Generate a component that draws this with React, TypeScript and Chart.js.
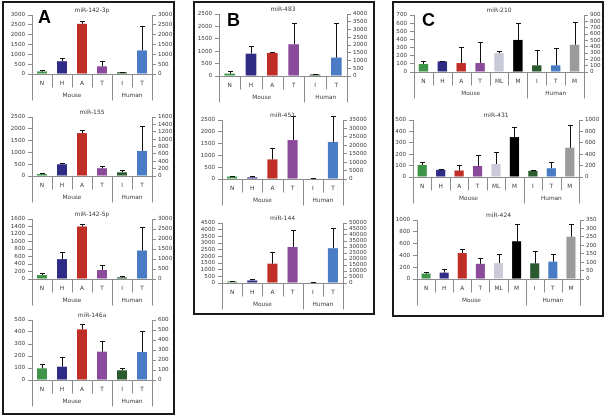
import React, { useEffect, useRef } from 'react';
import { Chart, registerables } from 'chart.js';
Chart.register(...registerables);

// ---------- categories / groups ----------
const catsAB = ['N', 'H', 'A', 'T', 'I', 'T'];
const catsC = ['N', 'H', 'A', 'T', 'ML', 'M', 'I', 'T', 'M'];
const groupNames = ['Mouse', 'Human'];
const groupSizesAB = [4, 2];
const groupSizesC = [6, 3];
const colorsAB = ['#3e9448', '#2f2c86', '#bf2f27', '#8a4b9a', '#2b5a2e', '#4a7cc6'];
const colorsC = ['#3e9448', '#2f2c86', '#bf2f27', '#8a4b9a', '#cacad8', '#000000', '#2b5a2e', '#4a7cc6', '#9b9b9b'];

// ---------- Panel A ----------
const m1423pMouse = [130, 650, 2550, 390];
const m1423pMouseErr = [90, 170, 130, 250];
const m1423pHuman = [90, 1200];
const m1423pHumanErr = [30, 1250];
const m1423pLeftAxis = [3000, 500];
const m1423pRightAxis = [3000, 500];

const m155Mouse = [85, 497, 1818, 330];
const m155MouseErr = [40, 40, 115, 95];
const m155Human = [100, 680];
const m155HumanErr = [64, 680];
const m155LeftAxis = [2500, 500];
const m155RightAxis = [1600, 200];

const m1425pMouse = [105, 530, 1400, 240];
const m1425pMouseErr = [45, 180, 65, 135];
const m1425pHuman = [85, 1425];
const m1425pHumanErr = [85, 1200];
const m1425pLeftAxis = [1600, 200];
const m1425pRightAxis = [3000, 500];

const m146aMouse = [97, 111, 422, 236];
const m146aMouseErr = [33, 83, 42, 92];
const m146aHuman = [97, 280];
const m146aHumanErr = [26, 210];
const m146aLeftAxis = [500, 100];
const m146aRightAxis = [600, 100];

// ---------- Panel B ----------
const m483Mouse = [95, 900, 930, 1280];
const m483MouseErr = [105, 300, 40, 840];
const m483Human = [100, 1190];
const m483HumanErr = [50, 2250];
const m483LeftAxis = [2500, 500];
const m483RightAxis = [4000, 500];

const m451Mouse = [100, 70, 830, 1650];
const m451MouseErr = [30, 60, 470, 1000];
const m451Human = [350, 22000];
const m451HumanErr = [200, 15500];
const m451LeftAxis = [2500, 500];
const m451RightAxis = [35000, 5000];

const m144Mouse = [110, 190, 1450, 2700];
const m144MouseErr = [40, 90, 900, 1300];
const m144Human = [300, 29000];
const m144HumanErr = [200, 16500];
const m144LeftAxis = [4500, 500];
const m144RightAxis = [50000, 5000];

// ---------- Panel C ----------
const m210Mouse = [98, 130, 110, 110, 232, 394];
const m210MouseErr = [32, 8, 203, 264, 32, 204];
const m210Human = [105, 105, 429];
const m210HumanErr = [246, 272, 356];
const m210LeftAxis = [700, 100];
const m210RightAxis = [900, 100];

const m431Mouse = [106, 63, 57, 97, 114, 350];
const m431MouseErr = [23, 6, 49, 94, 106, 90];
const m431Human = [109, 154, 514];
const m431HumanErr = [17, 115, 406];
const m431LeftAxis = [500, 100];
const m431RightAxis = [1000, 200];

const m424Mouse = [92, 108, 440, 257, 269, 640];
const m424MouseErr = [27, 65, 63, 103, 160, 286];
const m424Human = [93, 103, 251];
const m424HumanErr = [75, 43, 73];
const m424LeftAxis = [1000, 200];
const m424RightAxis = [350, 50];

// ---------- layout ----------
const PT = 12; // canvas space above plot
const YW = 30; // left axis width
const Y1W = 32; // right axis width
const XH = 30; // space below plot
const FONT = 'DejaVu Sans';
const TXT = '#3a3a3a';
const AX = '#8c8c8c';

type Spec = {
  title: string; cats: string[]; groups: number[]; colors: string[];
  mouse: number[]; mouseErr: number[]; human: number[]; humanErr: number[];
  left: number[]; right: number[];
  L: number; R: number; T: number; B: number;
};

const specs: Spec[] = [
  { title: 'miR-142-3p', cats: catsAB, groups: groupSizesAB, colors: colorsAB, mouse: m1423pMouse, mouseErr: m1423pMouseErr, human: m1423pHuman, humanErr: m1423pHumanErr, left: m1423pLeftAxis, right: m1423pRightAxis, L: 32, R: 152, T: 15, B: 74 },
  { title: 'miR-155', cats: catsAB, groups: groupSizesAB, colors: colorsAB, mouse: m155Mouse, mouseErr: m155MouseErr, human: m155Human, humanErr: m155HumanErr, left: m155LeftAxis, right: m155RightAxis, L: 32, R: 152, T: 117, B: 176 },
  { title: 'miR-142-5p', cats: catsAB, groups: groupSizesAB, colors: colorsAB, mouse: m1425pMouse, mouseErr: m1425pMouseErr, human: m1425pHuman, humanErr: m1425pHumanErr, left: m1425pLeftAxis, right: m1425pRightAxis, L: 32, R: 152, T: 219, B: 279 },
  { title: 'miR-146a', cats: catsAB, groups: groupSizesAB, colors: colorsAB, mouse: m146aMouse, mouseErr: m146aMouseErr, human: m146aHuman, humanErr: m146aHumanErr, left: m146aLeftAxis, right: m146aRightAxis, L: 32, R: 152, T: 320, B: 380 },
  { title: 'miR-483', cats: catsAB, groups: groupSizesAB, colors: colorsAB, mouse: m483Mouse, mouseErr: m483MouseErr, human: m483Human, humanErr: m483HumanErr, left: m483LeftAxis, right: m483RightAxis, L: 219, R: 347, T: 14, B: 76 },
  { title: 'miR-451', cats: catsAB, groups: groupSizesAB, colors: colorsAB, mouse: m451Mouse, mouseErr: m451MouseErr, human: m451Human, humanErr: m451HumanErr, left: m451LeftAxis, right: m451RightAxis, L: 222, R: 343, T: 120, B: 179 },
  { title: 'miR-144', cats: catsAB, groups: groupSizesAB, colors: colorsAB, mouse: m144Mouse, mouseErr: m144MouseErr, human: m144Human, humanErr: m144HumanErr, left: m144LeftAxis, right: m144RightAxis, L: 222, R: 343, T: 223, B: 283 },
  { title: 'miR-210', cats: catsC, groups: groupSizesC, colors: colorsC, mouse: m210Mouse, mouseErr: m210MouseErr, human: m210Human, humanErr: m210HumanErr, left: m210LeftAxis, right: m210RightAxis, L: 414, R: 584, T: 15, B: 72 },
  { title: 'miR-431', cats: catsC, groups: groupSizesC, colors: colorsC, mouse: m431Mouse, mouseErr: m431MouseErr, human: m431Human, humanErr: m431HumanErr, left: m431LeftAxis, right: m431RightAxis, L: 413, R: 579, T: 120, B: 177 },
  { title: 'miR-424', cats: catsC, groups: groupSizesC, colors: colorsC, mouse: m424Mouse, mouseErr: m424MouseErr, human: m424Human, humanErr: m424HumanErr, left: m424LeftAxis, right: m424RightAxis, L: 417, R: 580, T: 220, B: 279 },
];

function MiniChart({ s }: { s: Spec }) {
  const ref = useRef<HTMLCanvasElement | null>(null);
  const cl = s.L - YW;
  const ct = s.T - PT;
  const cw = s.R + Y1W - cl;
  const ch = s.B + XH - ct;

  useEffect(() => {
    const n = s.cats.length;
    const nm = s.mouse.length;
    const mouseData = s.cats.map((_, i) => (i < nm ? s.mouse[i] : null));
    const humanData = s.cats.map((_, i) => (i >= nm ? s.human[i - nm] : null));
    const errs = [
      s.cats.map((_, i) => (i < nm ? s.mouseErr[i] : 0)),
      s.cats.map((_, i) => (i >= nm ? s.humanErr[i - nm] : 0)),
    ];
    const tickFont = { family: FONT, size: 5.6 };

    const deco = {
      id: 'deco',
      afterDatasetsDraw(chart: any) {
        const ctx = chart.ctx;
        ctx.save();
        ctx.strokeStyle = '#111';
        ctx.lineWidth = 1;
        chart.data.datasets.forEach((ds: any, di: number) => {
          const meta = chart.getDatasetMeta(di);
          const ys = chart.scales[ds.yAxisID];
          meta.data.forEach((bar: any, i: number) => {
            const v = ds.data[i];
            if (v == null) return;
            const top = ys.getPixelForValue(v + errs[di][i]);
            const x = Math.round(bar.x) + 0.5;
            ctx.beginPath();
            ctx.moveTo(x, bar.y);
            ctx.lineTo(x, Math.round(top) + 0.5);
            ctx.moveTo(x - 2.5, Math.round(top) + 0.5);
            ctx.lineTo(x + 2.5, Math.round(top) + 0.5);
            ctx.stroke();
          });
        });
        ctx.restore();
      },
      afterDraw(chart: any) {
        const ctx = chart.ctx;
        const ca = chart.chartArea;
        const xs = chart.scales.x;
        ctx.save();
        // baseline
        ctx.strokeStyle = AX;
        ctx.lineWidth = 1;
        const by = Math.round(ca.bottom) + 0.5;
        ctx.beginPath();
        ctx.moveTo(ca.left, by);
        ctx.lineTo(ca.right, by);
        // separators
        const w = (ca.right - ca.left) / n;
        for (let i = 0; i <= n; i++) {
          const x = Math.round(ca.left + i * w) + 0.5;
          const long = i === 0 || i === n || i === nm;
          ctx.moveTo(x, by);
          ctx.lineTo(x, by + (long ? 26 : 13));
        }
        ctx.stroke();
        // category labels
        ctx.fillStyle = TXT;
        ctx.font = `5.8px "${FONT}"`;
        ctx.textAlign = 'center';
        ctx.textBaseline = 'middle';
        s.cats.forEach((c, i) => {
          ctx.fillText(c, xs.getPixelForValue(i), ca.bottom + 9.5);
        });
        // group labels
        let start = 0;
        s.groups.forEach((g, gi) => {
          const x0 = ca.left + start * w;
          const x1 = ca.left + (start + g) * w;
          ctx.fillText(groupNames[gi], (x0 + x1) / 2, ca.bottom + 21.5);
          start += g;
        });
        // title
        ctx.font = `6px "${FONT}"`;
        ctx.fillText(s.title, (ca.left + ca.right) / 2, ca.top - 4.5);
        ctx.restore();
      },
    };

    const chart = new Chart(ref.current as HTMLCanvasElement, {
      type: 'bar',
      data: {
        labels: s.cats,
        datasets: [
          { data: mouseData, yAxisID: 'y', backgroundColor: s.colors, borderWidth: 0 },
          { data: humanData, yAxisID: 'y1', backgroundColor: s.colors, borderWidth: 0 },
        ],
      } as any,
      options: {
        animation: false,
        responsive: false,
        devicePixelRatio: 1,
        layout: { padding: { top: PT, left: 0, right: 0, bottom: 0 } },
        plugins: { legend: { display: false }, tooltip: { enabled: false }, title: { display: false } },
        datasets: { bar: { grouped: false, barPercentage: 0.5, categoryPercentage: 1 } },
        scales: {
          x: {
            type: 'category',
            offset: true,
            grid: { display: false, drawTicks: false },
            border: { display: false },
            ticks: { display: false },
            afterFit: (sc: any) => { sc.height = XH; },
          },
          y: {
            position: 'left',
            min: 0,
            max: s.left[0],
            ticks: { stepSize: s.left[1], autoSkip: false, maxTicksLimit: 30, font: tickFont, color: TXT, padding: 3, callback: (v: any) => String(v) },
            grid: { drawOnChartArea: false, tickLength: 4, color: AX },
            border: { color: AX },
            afterFit: (sc: any) => { sc.width = YW; },
          },
          y1: {
            position: 'right',
            min: 0,
            max: s.right[0],
            ticks: { stepSize: s.right[1], autoSkip: false, maxTicksLimit: 30, font: tickFont, color: TXT, padding: 2, callback: (v: any) => String(v) },
            grid: { drawOnChartArea: false, tickLength: 4, color: AX },
            border: { color: AX },
            afterFit: (sc: any) => { sc.width = Y1W; },
          },
        },
      } as any,
      plugins: [deco],
    });
    return () => chart.destroy();
  }, []);

  return (
    <canvas
      ref={ref}
      width={cw}
      height={ch}
      style={{ position: 'absolute', left: cl, top: ct, width: cw, height: ch }}
    />
  );
}

const panels = [
  { l: 2, t: 1, r: 175, b: 415, letter: 'A', lx: 38, ly: 8 },
  { l: 193, t: 1, r: 375, b: 315, letter: 'B', lx: 227, ly: 11 },
  { l: 392, t: 1, r: 604, b: 317, letter: 'C', lx: 422, ly: 11 },
];

export default function App() {
  return (
    <div style={{ position: 'fixed', left: 0, top: 0, width: 606, height: 417, background: '#fff', overflow: 'hidden' }}>
      {panels.map((p) => (
        <div
          key={p.letter}
          style={{ position: 'absolute', left: p.l, top: p.t, width: p.r - p.l, height: p.b - p.t, border: '2px solid #1a1a1a', boxSizing: 'border-box' }}
        />
      ))}
      {specs.map((s) => (
        <MiniChart key={s.title} s={s} />
      ))}
      {panels.map((p) => (
        <div
          key={'t' + p.letter}
          style={{ position: 'absolute', left: p.lx, top: p.ly, fontFamily: '"Liberation Sans", Arial, sans-serif', fontWeight: 'bold', fontSize: 18, lineHeight: '18px', color: '#000' }}
        >
          {p.letter}
        </div>
      ))}
    </div>
  );
}
